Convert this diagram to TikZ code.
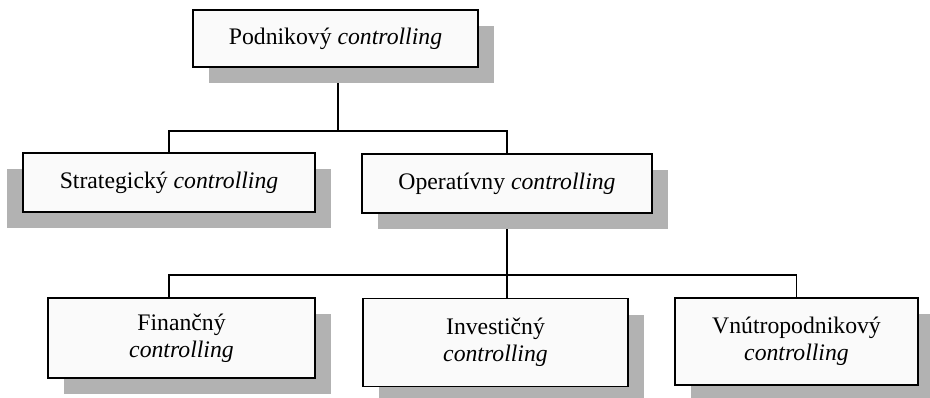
\documentclass[tikz,border=0pt]{standalone}
\usepackage{fontspec}
\setmainfont{Liberation Serif}[ItalicFont={Liberation Serif Italic}]
\usetikzlibrary{shadows,backgrounds}

\begin{document}
\begin{tikzpicture}[x=0.02cm,y=-0.02cm,
	ctrl/.style={rectangle,draw,thick,fill=gray!4,align=center,inner sep=0pt,
		font=\fontsize{13.5}{15.5}\selectfont,
		drop shadow={shadow xshift=0.32cm,shadow yshift=-0.32cm,fill=gray!60,opacity=1}},
	ctrlleft/.style={ctrl,drop shadow={shadow xshift=-0.32cm,shadow yshift=-0.32cm,fill=gray!60,opacity=1}},
	spoj/.style={draw,thick},
]
\useasboundingbox (0,0) rectangle (930,398);
\node[ctrl,minimum width=5.7cm,minimum height=1.14cm] (podnik) at (335.5,38.5) {Podnikový \textit{controlling}};
\node[ctrlleft,minimum width=5.84cm,minimum height=1.18cm] (strat) at (169,182.5) {Strategický \textit{controlling}};
\node[ctrl,minimum width=5.8cm,minimum height=1.18cm] (oper) at (507,183.5) {Operatívny \textit{controlling}};
\node[ctrl,minimum width=5.34cm,minimum height=1.6cm] (fin) at (181.5,338) {Finančný\\ \textit{controlling}};
\node[ctrl,minimum width=5.3cm,minimum height=1.76cm] (inv) at (495.5,342.5) {Investičný\\ \textit{controlling}};
\node[ctrl,minimum width=4.86cm,minimum height=1.74cm] (vnut) at (796.5,341.5) {Vnútropodnikový\\ \textit{controlling}};

\coordinate (j1) at (338,131);
\coordinate (j2) at (507,275);
\begin{scope}[on background layer]
\draw[spoj] (podnik.south -| j1) -- (j1);
\draw[spoj] (strat.north) |- (j1) -| (oper.north);
\draw[spoj] (oper.south) -- (j2);
\draw[spoj] (fin.north -| strat.south) |- (j2) -| (vnut.north);
\draw[spoj] (j2) -- (inv.north -| j2);
\end{scope}
\end{tikzpicture}
\end{document}
